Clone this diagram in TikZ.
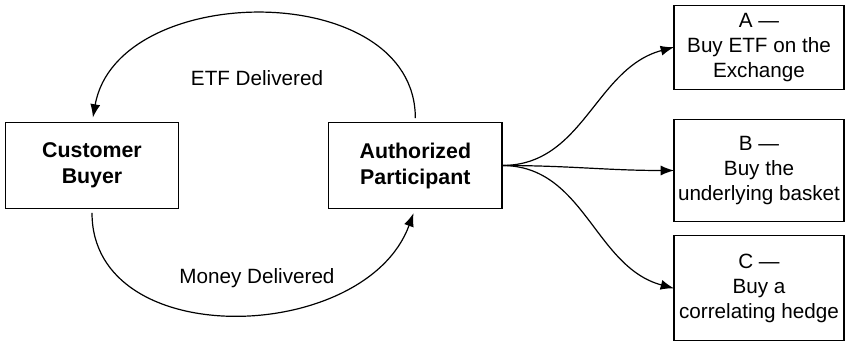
\documentclass[tikz,border=0pt]{standalone}
\usepackage{fontspec}
\setmainfont{Liberation Sans}
\usetikzlibrary{positioning}
\usetikzlibrary{arrows.meta}

\begin{document}
\begin{tikzpicture}[x=0.75pt,y=0.75pt,every node/.style={inner sep=1,outer sep=0,align=center},
  party/.style={draw,line width=0.9pt,minimum width=130pt,minimum height=64pt,font=\fontsize{16}{19.5}\selectfont\bfseries},
  choice/.style={draw,line width=0.9pt,minimum width=127.5pt,font=\fontsize{15.5}{18.75}\selectfont},
  flow/.style={line width=0.9pt,-{Latex[length=10pt,width=7.5pt]}},
  lbl/.style={font=\fontsize{15.5}{19}\selectfont}]

\useasboundingbox (0,0) rectangle (845,-342);

\node (cb) [party] at (92,-165.5) {Customer\\Buyer};
\node (ap) [party,right=112.5pt of cb] {Authorized\\Participant};

\node (bb) [choice,minimum height=77pt,right=129pt of ap,yshift=-3.75pt] {B ---\\Buy the\\underlying basket};
\node (ba) [choice,minimum height=63pt,above=22.5pt of bb] {A ---\\Buy ETF on the\\Exchange};
\node (bc) [choice,minimum height=78.75pt,below=10.5pt of bb] {C ---\\Buy a\\correlating hedge};

\node (etf) [lbl] at (257,-78) {ETF Delivered};
\node (money) [lbl] at (257,-278) {Money Delivered};

\draw[flow,shorten <=3.5pt,shorten >=4pt] (ap.north) to[out=90,in=80,looseness=1.15] (cb.north);
\draw[flow,shorten <=3.5pt,shorten >=4pt] (cb.south) to[out=-90,in=-110,looseness=1.15] (ap.south);

\draw[flow] (ap.east) to[out=0,in=195] (ba.west);
\draw[flow] (ap.east) to[out=0,in=180] (bb.west);
\draw[flow] (ap.east) to[out=0,in=165] (bc.west);
\end{tikzpicture}
\end{document}
